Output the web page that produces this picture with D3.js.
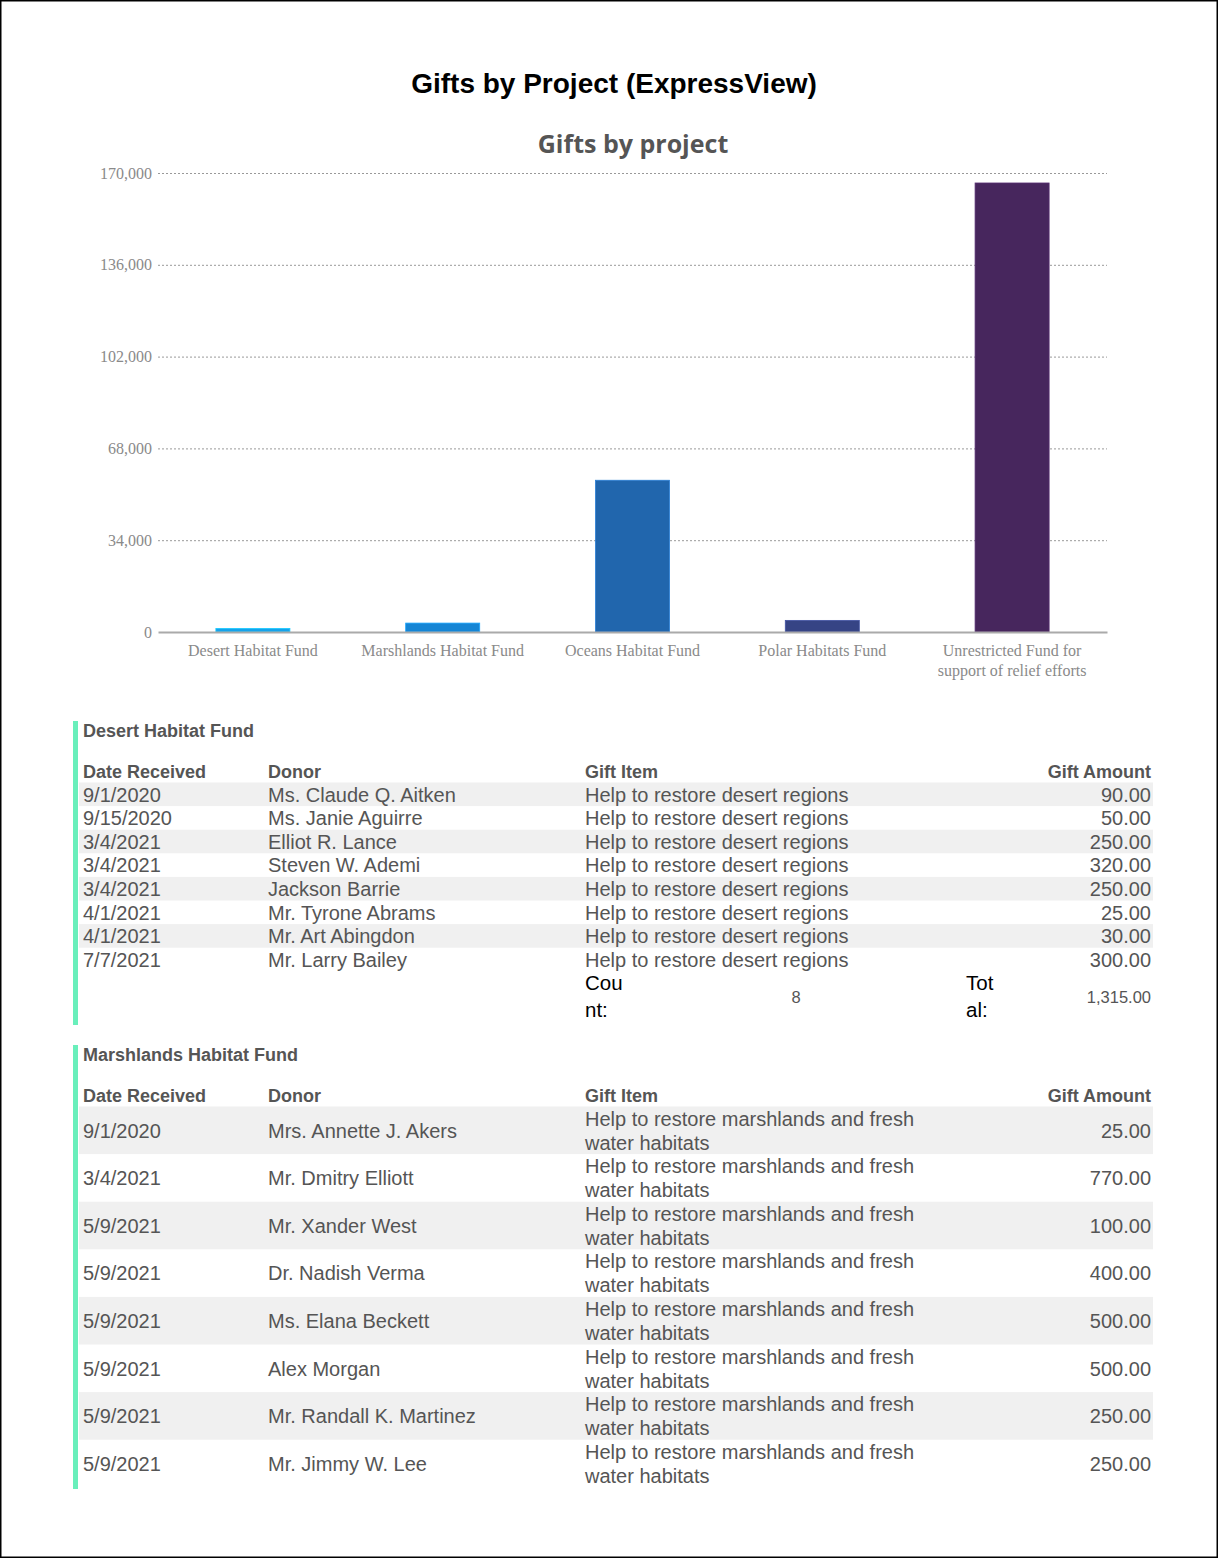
<!DOCTYPE html>
<html>
<head>
<meta charset="utf-8">
<script src="https://cdn.jsdelivr.net/npm/d3@7"></script>
<style>
  body { margin: 0; background: #fff; }
  svg { display: block; }
</style>
</head>
<body>
<div id="page"></div>
<script>
// chart data
var projects = ["Desert Habitat Fund", "Marshlands Habitat Fund", "Oceans Habitat Fund",
                "Polar Habitats Fund", "Unrestricted Fund for support of relief efforts"];
var projectTotals = [1315, 3300, 56200, 4300, 166300];
var projectColors = ["#14a3ec", "#1485d5", "#2166ad", "#364485", "#47265d"];
var yTicks = [0, 34000, 68000, 102000, 136000, 170000];

// table data
var columnLabels = ["Date Received", "Donor", "Gift Item", "Gift Amount"];

var desertDates = ["9/1/2020", "9/15/2020", "3/4/2021", "3/4/2021", "3/4/2021", "4/1/2021", "4/1/2021", "7/7/2021"];
var desertDonors = ["Ms. Claude Q. Aitken", "Ms. Janie Aguirre", "Elliot R. Lance", "Steven W. Ademi",
                    "Jackson Barrie", "Mr. Tyrone Abrams", "Mr. Art Abingdon", "Mr. Larry Bailey"];
var desertAmounts = [90, 50, 250, 320, 250, 25, 30, 300];
var desertItem = "Help to restore desert regions";

var marshDates = ["9/1/2020", "3/4/2021", "5/9/2021", "5/9/2021", "5/9/2021", "5/9/2021", "5/9/2021", "5/9/2021"];
var marshDonors = ["Mrs. Annette J. Akers", "Mr. Dmitry Elliott", "Mr. Xander West", "Dr. Nadish Verma",
                   "Ms. Elana Beckett", "Alex Morgan", "Mr. Randall K. Martinez", "Mr. Jimmy W. Lee"];
var marshAmounts = [25, 770, 100, 400, 500, 500, 250, 250];
var marshItem = "Help to restore marshlands and fresh water habitats";

var W = 1218, H = 1558;
var svg = d3.select("#page").append("svg").attr("width", W).attr("height", H);

svg.append("rect")
  .attr("x", 0.75).attr("y", 0.75).attr("width", W - 1.5).attr("height", H - 1.5)
  .attr("fill", "none").attr("stroke", "#000").attr("stroke-width", 1.5);

svg.append("text")
  .attr("x", 614).attr("y", 93)
  .attr("text-anchor", "middle")
  .style("font", "bold 28px 'Liberation Sans', Arial, sans-serif")
  .attr("fill", "#000")
  .text("Gifts by Project (ExpressView)");

svg.append("text")
  .attr("x", 633).attr("y", 153)
  .attr("text-anchor", "middle")
  .style("font", "700 25px 'Open Sans', 'Noto Sans', sans-serif")
  .attr("fill", "#555")
  .text("Gifts by project");

// ---- bar chart ----
var plotL = 158, plotR = 1107, plotT = 173, plotB = 632;

var x = d3.scaleBand().domain(projects).range([plotL, plotR]).paddingInner(0.61).paddingOuter(0.305);
var y = d3.scaleLinear().domain([0, 170000]).range([plotB, plotT]);

var yAxis = svg.append("g")
  .attr("transform", "translate(" + plotL + ",0)")
  .call(d3.axisLeft(y).tickValues(yTicks).tickFormat(d3.format(",")).tickSize(-(plotR - plotL)).tickPadding(6));
yAxis.select(".domain").remove();
yAxis.selectAll("line")
  .attr("stroke", "#999").attr("stroke-dasharray", "2,2")
  .attr("opacity", function(d) { return d === 0 ? 0 : 1; });
yAxis.selectAll("text")
  .attr("fill", "#8a8a8a")
  .style("font", "16px 'Liberation Serif', 'Times New Roman', serif");

svg.selectAll(".bar")
  .data(projects)
  .enter().append("rect")
  .attr("class", "bar")
  .attr("x", function(d) { return x(d); })
  .attr("width", x.bandwidth())
  .attr("y", function(d, i) { return y(projectTotals[i]); })
  .attr("height", function(d, i) { return plotB - y(projectTotals[i]); })
  .attr("fill", function(d, i) { return projectColors[i]; })
  .attr("stroke", function(d, i) { return d3.color(projectColors[i]).brighter(0.6); })
  .attr("stroke-width", 0.8);

var xAxis = svg.append("g")
  .attr("transform", "translate(0," + plotB + ")")
  .call(d3.axisBottom(x).tickSize(0).tickPadding(10));
xAxis.select(".domain").attr("stroke", "#aaa").attr("stroke-width", 2);
xAxis.selectAll("text")
  .attr("fill", "#8a8a8a")
  .style("font", "16px 'Liberation Serif', 'Times New Roman', serif")
  .each(function(d) {
    var t = d3.select(this), words = d.split(" "), line = [], lines = [];
    t.text(null);
    var probe = t.append("tspan");
    words.forEach(function(w) {
      line.push(w);
      probe.text(line.join(" "));
      if (probe.node().getComputedTextLength() > 172 && line.length > 1) {
        line.pop();
        lines.push(line.join(" "));
        line = [w];
      }
    });
    lines.push(line.join(" "));
    probe.remove();
    t.attr("y", 0).attr("dy", null);
    lines.forEach(function(l, k) {
      t.append("tspan").attr("x", 0).attr("y", 24 + k * 20).text(l);
    });
  });

// ---- tables ----
var colX = [83, 268, 585, 1151];
var tableFont = "20px 'Liberation Sans', Arial, sans-serif";
var boldFont = "bold 18px 'Liberation Sans', Arial, sans-serif";
var money = d3.format(",.2f");

function wrapWords(text, maxW) {
  var probe = svg.append("text").style("font", tableFont);
  var words = text.split(" "), line = [], lines = [];
  words.forEach(function(w) {
    line.push(w);
    probe.text(line.join(" "));
    if (probe.node().getComputedTextLength() > maxW && line.length > 1) {
      line.pop();
      lines.push(line.join(" "));
      line = [w];
    }
  });
  lines.push(line.join(" "));
  probe.remove();
  return lines;
}

function drawSection(title, top0, dates, donors, item, amounts, rowH, showTotal, barEnd) {
  var g = svg.append("g");
  g.append("rect").attr("x", 73).attr("y", top0).attr("width", 5)
    .attr("height", barEnd - top0).attr("fill", "#69efbb");

  g.append("text").attr("x", colX[0]).attr("y", top0 + 16)
    .style("font", boldFont).attr("fill", "#555").text(title);

  g.selectAll(".hdr").data(columnLabels).enter().append("text")
    .attr("x", function(d, i) { return colX[i]; })
    .attr("y", top0 + 57)
    .attr("text-anchor", function(d, i) { return i === 3 ? "end" : "start"; })
    .style("font", boldFont).attr("fill", "#555")
    .text(function(d) { return d; });

  var rowTop = top0 + 61.5;
  var itemLines = wrapWords(item, 372);
  var rows = g.selectAll(".row").data(dates).enter().append("g")
    .attr("transform", function(d, i) { return "translate(0," + (rowTop + i * rowH) + ")"; });

  rows.append("rect")
    .attr("x", 79).attr("width", 1074).attr("height", rowH)
    .attr("fill", function(d, i) { return i % 2 === 0 ? "#f0f0f0" : "none"; });

  function cell(sel, xx, anchor, fn) {
    sel.append("text").attr("x", xx).attr("y", rowH / 2).attr("dy", "0.36em")
      .attr("text-anchor", anchor)
      .style("font", tableFont).attr("fill", "#555").text(fn);
  }
  cell(rows, colX[0], "start", function(d) { return d; });
  cell(rows, colX[1], "start", function(d, i) { return donors[i]; });
  cell(rows, colX[3], "end", function(d, i) { return money(amounts[i]); });

  rows.each(function() {
    var t = d3.select(this).append("text").style("font", tableFont).attr("fill", "#555");
    itemLines.forEach(function(l, k) {
      t.append("tspan").attr("x", colX[2])
        .attr("y", rowH / 2 + (k - (itemLines.length - 1) / 2) * 24)
        .attr("dy", "0.36em").text(l);
    });
  });

  if (showTotal) {
    var ty = rowTop + dates.length * rowH;
    var totFont = "20.5px 'Liberation Sans', Arial, sans-serif";
    [["Cou", "nt:", colX[2]], ["Tot", "al:", 966]].forEach(function(p) {
      var t = g.append("text").style("font", totFont).attr("fill", "#000");
      t.append("tspan").attr("x", p[2]).attr("y", ty + 18.5).text(p[0]);
      t.append("tspan").attr("x", p[2]).attr("y", ty + 46).text(p[1]);
    });
    g.append("text").attr("x", 796).attr("y", ty + 32).attr("text-anchor", "middle")
      .style("font", "16.5px 'Liberation Sans', Arial, sans-serif").attr("fill", "#555")
      .text(dates.length);
    g.append("text").attr("x", colX[3]).attr("y", ty + 32).attr("text-anchor", "end")
      .style("font", "16.5px 'Liberation Sans', Arial, sans-serif").attr("fill", "#555")
      .text(money(d3.sum(amounts)));
  }
}

drawSection(projects[0], 721, desertDates, desertDonors, desertItem, desertAmounts, 23.6, true, 1025);
drawSection(projects[1], 1045, marshDates, marshDonors, marshItem, marshAmounts, 47.6, false, 1489);
</script>
</body>
</html>
